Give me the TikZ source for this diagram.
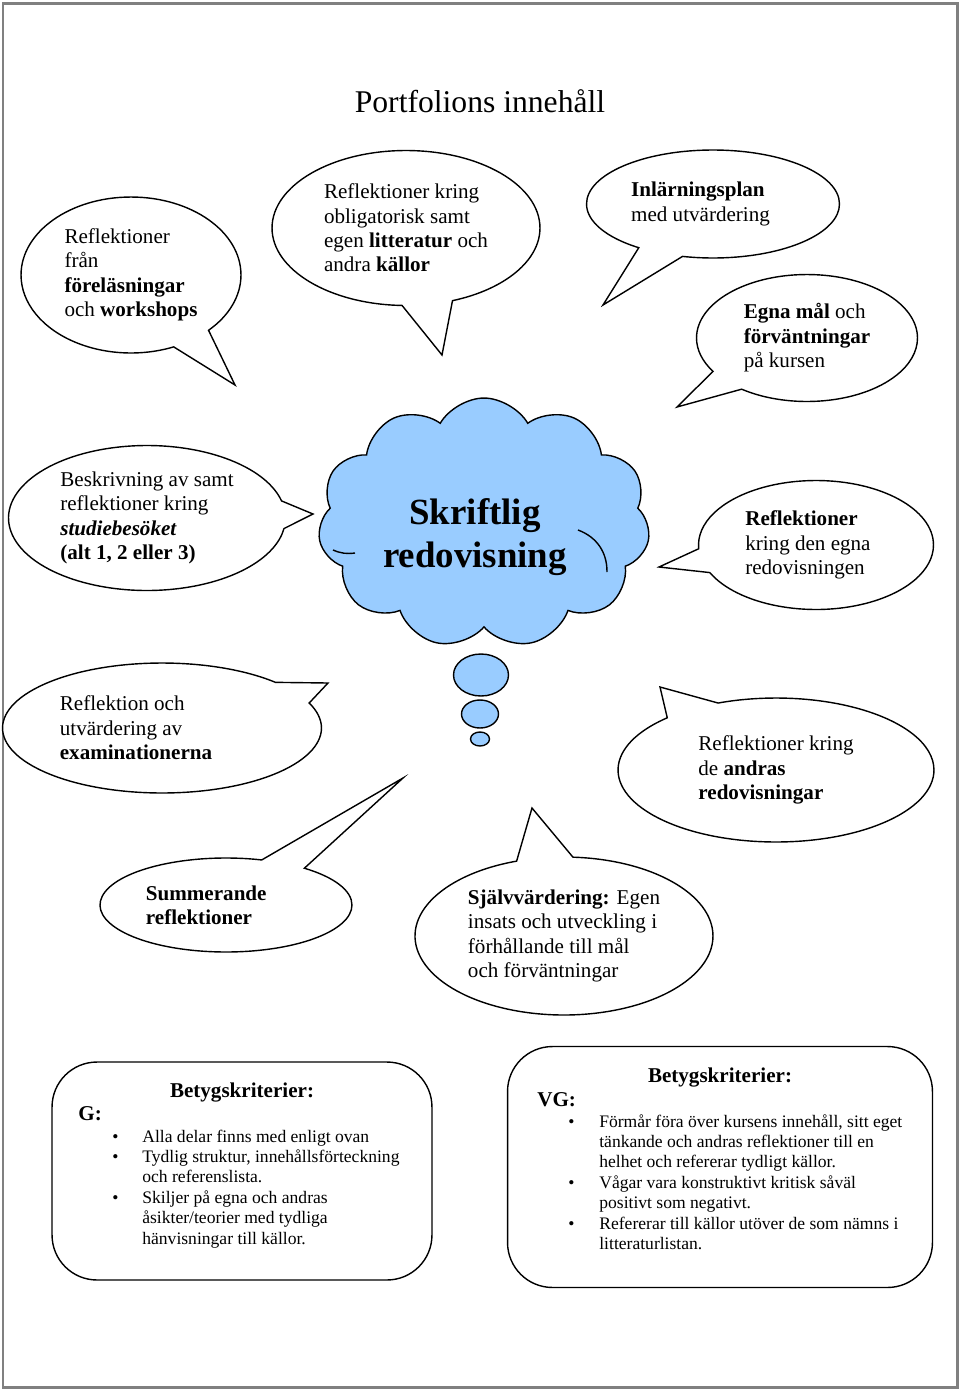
\documentclass[tikz,border=0pt]{standalone}
\usepackage{fontspec}
\setmainfont{Liberation Serif}
\usepackage{xcolor}
\usepackage{tikz}
\usetikzlibrary{shapes.callouts,shapes.symbols,shapes.geometric,positioning}
\definecolor{cloudblue}{RGB}{153,204,255}
\tikzset{
  bubble/.style={
    ellipse callout,
    draw=black,
    thick,
    fill=white,
    inner sep=0pt,
    callout pointer arc=22,
    align=left,
    font=\fontsize{12}{13.9}\selectfont
  },
  critbox/.style={
    rectangle,
    draw=black,
    thick,
    rounded corners=0.9cm,
    fill=white
  }
}

\begin{document}
\begin{tikzpicture}[
  x=0.02cm, y=-0.02cm,
  dot/.style={ellipse, draw=black, thick, fill=cloudblue, inner sep=0pt},
  thought/.style={cloud, cloud puffs=11, cloud puff arc=120, draw=black, thick, fill=cloudblue, inner sep=0pt},
  puffline/.style={draw=black, thick},
  head/.style={font=\fontsize{12}{13.9}\selectfont\bfseries, inner sep=0pt},
  crit/.style={font=\fontsize{10}{11.62}\selectfont, inner sep=0pt, align=left}
]
\useasboundingbox (0,0) rectangle (960,1390);

% Page frame
\draw[gray, line width=0.06cm] (3,3) rectangle (957,1387);

% Title
\node[font=\fontsize{18}{20}\selectfont] (title) at (480, 101) {Portfolions innehåll};

% Tips of the speech bubbles
\coordinate (t1) at (235, 385);
\coordinate (t2) at (442, 355);
\coordinate (t3) at (603, 305);
\coordinate (t4) at (677, 407);
\coordinate (t5) at (313, 514);
\coordinate (t6) at (659, 567);
\coordinate (t7) at (328, 683);
\coordinate (t8) at (660, 687);
\coordinate (t9) at (403, 778);
\coordinate (t10) at (532, 808);

% Upper bubbles
\node[bubble, minimum width=4.4cm, minimum height=3.12cm, callout absolute pointer={(t1)}] (fore) at (131, 275)
  {Reflektioner\\från\\\textbf{föreläsningar}\\och \textbf{workshops}};
\node[bubble, minimum width=5.36cm, minimum height=3.1cm, callout absolute pointer={(t2)}] (litt) at (406, 228)
  {Reflektioner kring\\obligatorisk samt\\egen \textbf{litteratur} och\\andra \textbf{källor}};
\node[bubble, minimum width=5.06cm, minimum height=2.16cm, callout absolute pointer={(t3)}] (plan) at (713, 204)
  {\textbf{Inlärningsplan}\\med utvärdering\hspace*{0.5cm}};
\node[bubble, minimum width=4.42cm, minimum height=2.54cm, callout absolute pointer={(t4)}] (mal) at (807, 338)
  {\textbf{Egna mål} och\\\textbf{förväntningar}\\på kursen};

% Middle row
\node[bubble, minimum width=5.54cm, minimum height=2.9cm, callout absolute pointer={(t5)}] (besok) at (147, 518)
  {Beskrivning av samt\\reflektioner kring\\\textbf{\textit{studiebesöket}}\\\textbf{(alt 1, 2 eller 3)}};
\node[thought, minimum width=6.64cm, minimum height=5cm] (skrift) at (484, 523) {};
% inner puff lines of the cloud
\path[puffline] (578, 530) to[bend left=35] (607, 572);
\path[puffline] (333, 550) to[bend right=15] (355, 553);
\node[font=\fontsize{21}{24}\selectfont\bfseries, align=center, inner sep=0pt] (skrifttext) at (475, 537) {Skriftlig\\redovisning};
\node[bubble, minimum width=4.7cm, minimum height=2.58cm, callout absolute pointer={(t6)}] (egna) at (816, 545)
  {\textbf{Reflektioner}\\kring den egna\\redovisningen\hspace*{0.44cm}};

% Thought dots
\node[dot, minimum width=1.1cm, minimum height=0.84cm] (dot1) at (481, 675) {};
\node[dot, minimum width=0.74cm, minimum height=0.56cm] (dot2) at (480, 714) {};
\node[dot, minimum width=0.38cm, minimum height=0.28cm] (dot3) at (480, 739) {};

% Lower bubbles
\node[bubble, minimum width=6.38cm, minimum height=2.6cm, callout absolute pointer={(t7)}] (exam) at (162, 728)
  {Reflektion och\\utvärdering av\\\textbf{examinationerna}\hspace*{1.04cm}};
\node[bubble, minimum width=6.32cm, minimum height=2.88cm, callout absolute pointer={(t8)}] (andra) at (776, 770)
  {Reflektioner kring\\de \textbf{andras}\\\textbf{redovisningar}};
\node[bubble, minimum width=5.04cm, minimum height=1.88cm, callout absolute pointer={(t9)}] (summ) at (226, 905)
  {\textbf{Summerande}\\\textbf{reflektioner}\hspace*{1.08cm}};
\node[bubble, minimum width=5.96cm, minimum height=3.16cm, callout absolute pointer={(t10)}] (sjalv) at (564, 936)
  {\textbf{Självvärdering:} Egen\\insats och utveckling i\\förhållande till mål\\och förväntningar};

% Grading criteria, G
\node[critbox, minimum width=7.6cm, minimum height=4.36cm] (gbox) at (242, 1171) {};
\node[head, anchor=base] (ghead) at (242, 1097) {Betygskriterier:};
\node[head, anchor=base west] (glabel) at (78, 1120) {G:};
\node[crit, anchor=base west] (glist) at (112, 1142) {%
  \begin{tabular}[t]{@{}p{0.6cm}@{}l@{}}
  \textbullet & Alla delar finns med enligt ovan\\
  \textbullet & Tydlig struktur, innehållsförteckning\\
              & och referenslista.\\
  \textbullet & Skiljer på egna och andras\\
              & åsikter/teorier med tydliga\\
              & hänvisningar till källor.
  \end{tabular}};

% Grading criteria, VG
\node[critbox, minimum width=8.5cm, minimum height=4.82cm] (vgbox) at (720, 1167) {};
\node[head, anchor=base] (vghead) at (720, 1082) {Betygskriterier:};
\node[head, anchor=base west] (vglabel) at (537, 1106) {VG:};
\node[crit, anchor=base west] (vglist) at (568, 1127) {%
  \begin{tabular}[t]{@{}p{0.62cm}@{}l@{}}
  \textbullet & Förmår föra över kursens innehåll, sitt eget\\
              & tänkande och andras reflektioner till en\\
              & helhet och refererar tydligt källor.\\
  \textbullet & Vågar vara konstruktivt kritisk såväl\\
              & positivt som negativt.\\
  \textbullet & Refererar till källor utöver de som nämns i\\
              & litteraturlistan.
  \end{tabular}};

\end{tikzpicture}
\end{document}
